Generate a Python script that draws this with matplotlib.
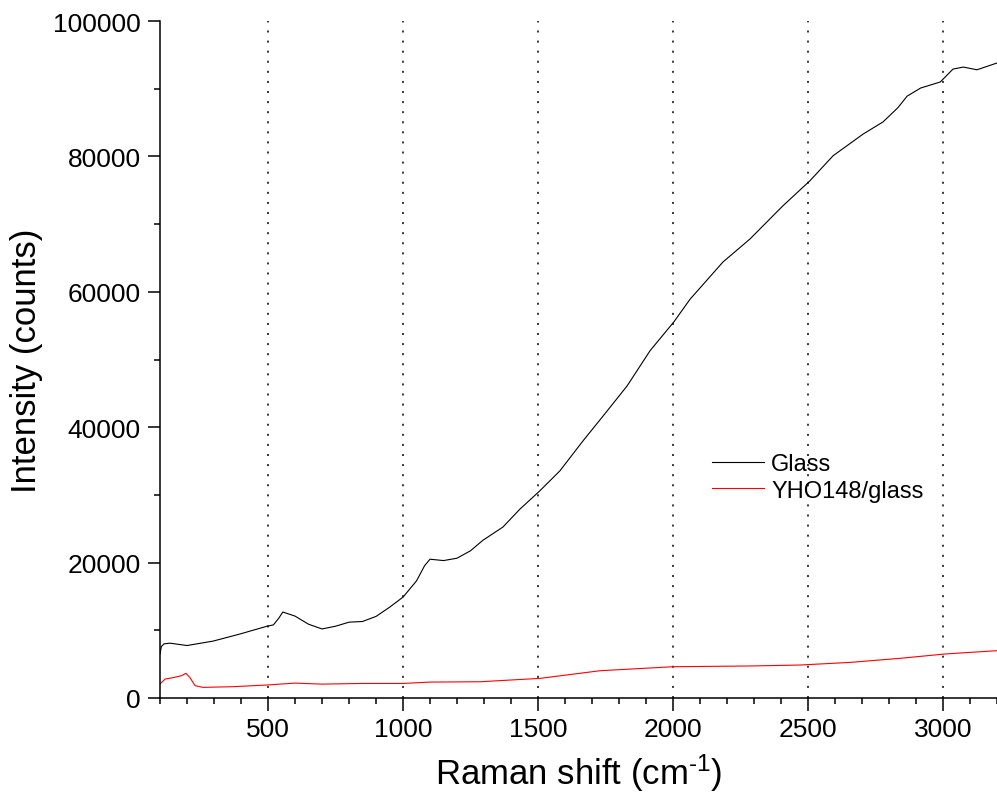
import matplotlib
matplotlib.use("Agg")
import matplotlib.pyplot as plt
from matplotlib.ticker import MultipleLocator

plt.rcParams['font.family'] = ['Liberation Sans', 'DejaVu Sans']
plt.rcParams['mathtext.fontset'] = 'custom'
plt.rcParams['mathtext.rm'] = 'Liberation Sans'
plt.rcParams['mathtext.it'] = 'Liberation Sans'

# Raman spectra (counts vs shift in cm^-1)
glass_x = [100, 105, 115, 137, 200, 296, 396, 496, 520, 540, 555, 600, 650, 700,
           750, 800, 850, 900, 950, 1000, 1050, 1080, 1100, 1150, 1200, 1250,
           1296, 1370, 1433, 1504, 1581, 1667, 1741, 1830, 1915, 2004, 2063,
           2185, 2285, 2407, 2507, 2593, 2704, 2778, 2833, 2867, 2917, 2990,
           3037, 3075, 3126, 3200]
glass_y = [6500, 7600, 8000, 8100, 7750, 8400, 9450, 10600, 10800, 11800, 12700,
           12100, 10900, 10200, 10600, 11200, 11300, 12050, 13400, 14900, 17300,
           19550, 20500, 20300, 20650, 21750, 23300, 25250, 27900, 30500, 33550,
           38000, 41650, 46100, 51300, 55600, 58900, 64400, 67800, 72700, 76400,
           80100, 83300, 85100, 87200, 88900, 90100, 91000, 92900, 93200, 92800,
           93800]

yho_x = [100, 119, 148, 180, 196, 211, 230, 259, 370, 496, 600, 700, 850, 1000,
         1100, 1285, 1507, 1730, 2000, 2285, 2470, 2656, 2841, 3007, 3200]
yho_y = [2070, 2800, 3000, 3300, 3640, 3000, 1820, 1570, 1670, 1920, 2200, 2050,
         2150, 2150, 2350, 2400, 2900, 4030, 4620, 4730, 4870, 5260, 5860, 6500,
         6990]

fig = plt.figure(figsize=(9.97, 8.04), dpi=100)
ax = fig.add_axes([0.1605, 0.1306, 0.8395, 0.842])

ax.plot(glass_x, glass_y, color='black', lw=0.8, label='Glass')
ax.plot(yho_x, yho_y, color='red', lw=0.8, label='YHO148/glass')

ax.set_xlim(100, 3200)
ax.set_ylim(0, 100000)
ax.xaxis.set_major_locator(MultipleLocator(500))
ax.xaxis.set_minor_locator(MultipleLocator(100))
ax.yaxis.set_major_locator(MultipleLocator(20000))
ax.yaxis.set_minor_locator(MultipleLocator(10000))

for x in range(500, 3001, 500):
    ax.axvline(x, color='black', lw=1.1, linestyle=(0, (1.3, 5.3)), zorder=0)

for s in ['top', 'right']:
    ax.spines[s].set_visible(False)
for s in ['left', 'bottom']:
    ax.spines[s].set_linewidth(1.1)

ax.tick_params(which='major', direction='out', length=9, width=1.1, labelsize=19, pad=5)
ax.tick_params(which='minor', direction='out', length=4, width=1.1)

ax.set_xlabel(r'Raman shift (cm$^{\text{-1}}$)', fontsize=25, labelpad=7)
ax.set_ylabel('Intensity (counts)', fontsize=25, labelpad=7)

ax.legend(loc='upper left', bbox_to_anchor=(0.6595, 0.362), frameon=False,
          fontsize=17, handlelength=2.2, handletextpad=0.3, labelspacing=0.2,
          borderpad=0, borderaxespad=0)

fig.savefig('out.png', dpi=100)
